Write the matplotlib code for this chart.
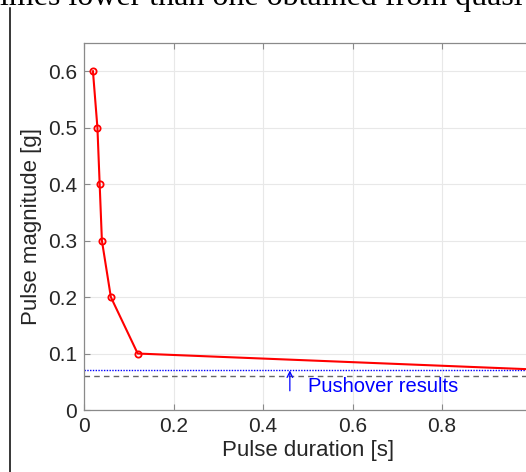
import matplotlib
matplotlib.use("Agg")
import matplotlib.pyplot as plt
from matplotlib.lines import Line2D

# Pulse duration vs. magnitude curve
duration = [0.02, 0.03, 0.035, 0.04, 0.06, 0.12, 1.0]
magnitude = [0.6, 0.5, 0.4, 0.3, 0.2, 0.1, 0.072]

# Reference levels from pushover analysis
pushover_level = 0.07
pushover_lower = 0.06

xticks = [0, 0.2, 0.4, 0.6, 0.8]
yticks = [0, 0.1, 0.2, 0.3, 0.4, 0.5, 0.6]

plt.rcParams['font.family'] = ['Liberation Sans', 'DejaVu Sans']

fig = plt.figure(figsize=(5.26, 4.72), dpi=100)
fig.patch.set_facecolor('white')

# surrounding page text and rule
fig.text(0.0, 1 - 5 / 472, "imes lower than one obtained from quasi",
         family=['Liberation Serif', 'DejaVu Serif'], fontsize=23,
         color='black', ha='left', va='baseline')
fig.add_artist(Line2D([10 / 526, 10 / 526], [0, 1 - 8 / 472],
                      transform=fig.transFigure, color='black', lw=1.1))

ax = fig.add_axes([84 / 526, 62 / 472, 447.5 / 526, 367 / 472])

ax.plot(duration, magnitude, color='#ff0000', lw=1.5, marker='o',
        markersize=4.5, markerfacecolor='none', markeredgewidth=1.3,
        clip_on=True, zorder=3)
ax.axhline(pushover_level, color='#0000ff', lw=1.0, ls=(0, (1, 1)), zorder=2)
ax.axhline(pushover_lower, color='#666666', lw=1.0, ls=(0, (4, 3)), zorder=2)

ax.annotate('', xy=(0.46, pushover_level), xytext=(0.46, 0.034),
            arrowprops=dict(arrowstyle='->', color='#0000ff', lw=0.9,
                            shrinkA=0, shrinkB=0, mutation_scale=10))
ax.text(0.50, 0.031, 'Pushover results', color='#0000ff', fontsize=14.5,
        ha='left', va='baseline')

ax.set_xlim(0, 1)
ax.set_ylim(0, 0.65)
ax.set_xticks(xticks)
ax.set_yticks(yticks)
ax.set_xticklabels(['0', '0.2', '0.4', '0.6', '0.8'])
ax.set_yticklabels(['0', '0.1', '0.2', '0.3', '0.4', '0.5', '0.6'])

ax.grid(True, color='#e8e8e8', lw=0.8)
ax.set_axisbelow(True)
for s in ax.spines.values():
    s.set_color('#8a8a8a')
    s.set_linewidth(0.9)
ax.tick_params(direction='in', length=4, width=0.8, color='#8a8a8a',
               labelsize=15, labelcolor='#262626', top=True, right=True, pad=5)

ax.set_xlabel('Pulse duration [s]', fontsize=16, color='#262626', labelpad=3)
ax.set_ylabel('Pulse magnitude [g]', fontsize=16, color='#262626', labelpad=4)

fig.savefig('out.png', dpi=100, facecolor='white')
